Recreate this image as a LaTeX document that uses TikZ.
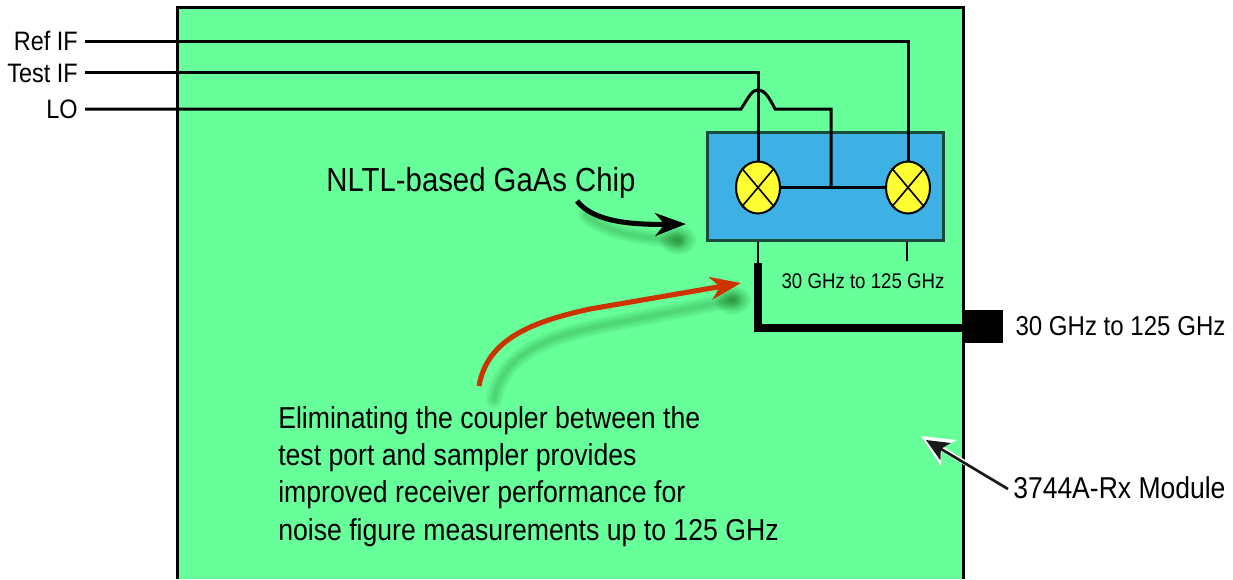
\documentclass[tikz,border=0pt]{standalone}
\usepackage{fontspec}
\setmainfont[FakeStretch=0.88]{Liberation Sans}
\usepackage{xcolor}
\usepackage{tikz}
\usetikzlibrary{positioning}
\usetikzlibrary{arrows.meta}
\usetikzlibrary{shapes.geometric}

\definecolor{modgreen}{HTML}{66FF99}
\definecolor{chipblue}{HTML}{3EB1E4}
\definecolor{chipedge}{HTML}{1B4A3A}
\definecolor{mixyellow}{HTML}{FFFF33}
\definecolor{notered}{HTML}{CC3300}

\tikzset{
	lbl/.style={inner sep=0pt, font=\fontsize{20}{24}\selectfont},
	wire/.style={draw, line width=2.25pt},
	mixer/.style={draw, ellipse, fill=mixyellow, line width=1.5pt, minimum width=33pt, minimum height=39pt, inner sep=0pt},
	bighead/.style={-{Stealth[length=23pt, width=17pt, inset=7pt]}},
}
\newcommand{\softshade}[2]{%
	\foreach \w in {16,12,8,4} {
		\draw[opacity=.06, line width=\w*0.75pt, line cap=round, color=black!70!green] #1;
	}
	\foreach \r in {18,16,14,12,10,8,6,4} {
		\fill[opacity=.06, color=black!70!green] #2 ellipse ({\r} and {\r*0.8});
	}
}

\begin{document}
\begin{tikzpicture}[x=0.75pt, y=-0.75pt]
		\useasboundingbox (0,0) rectangle (1233,579);
		% module body, open at the bottom
		\fill[modgreen] (177,7) rectangle (963,579);
		\draw[line width=2.25pt] (177,579) -- (177,7) -- (963,7) -- (963,579);

		\node [lbl, anchor=east] (refif) at (78,41) {Ref IF};
		\node [lbl, anchor=east] (testif) at (78,73) {Test IF};
		\node [lbl, anchor=east] (loif) at (78,109) {LO};

		\node [draw=chipedge, fill=chipblue, line width=2.2pt, minimum width=177pt, minimum height=81pt, inner sep=0pt] (chip) at (825.5,186.5) {};
		\node [mixer] (mixl) at (758,187.5) {};
		\node [mixer] (mixr) at (908,187.5) {};
		\foreach \m in {mixl,mixr} {
			\draw[line width=1.2pt] (\m.50) -- (\m.230);
			\draw[line width=1.2pt] (\m.130) -- (\m.310);
		}

		\coordinate (lojoin) at (831,187.5);
		\path[wire] (refif.east) ++(7,0) -- (908,41) -- (mixr.north);
		\path[wire] (testif.east) ++(7,-1) -- (758,72) -- (mixl.north);
		\path[wire] (loif.east) ++(7,0) -- (741,109) .. controls (750,95) and (752,90) .. (758,90) .. controls (764,90) and (768,95) .. (775,109) -- (831,109) -- (lojoin);
		\path[wire] (mixl.east) -- (mixr.west);

		% test port path
		\coordinate (lstub) at (758,263);
		\coordinate (rstub) at (907,261);
		\coordinate (lbend) at (758,328);
		\path[wire, line width=1.8pt] (758,242) -- (lstub);
		\path[wire, line width=1.8pt] (907,242) -- (rstub);
		\node [fill=black, minimum width=30pt, minimum height=25pt, inner sep=0pt] (port) at (983,326.5) {};
		\path[draw, line width=6pt] (lstub) -- (lbend) -- (lbend -| port.west);

		\node [lbl, font=\fontsize{15.9}{18}\selectfont] (rfchip) at (863,281) {30 GHz to 125 GHz};
		\node [lbl, font=\fontsize{20.5}{24}\selectfont, right= 9pt of port] (rfport) {30 GHz to 125 GHz};

		\node [lbl, font=\fontsize{25}{30}\selectfont] (chiplbl) at (481,183) {NLTL-based GaAs Chip};
		\node [lbl, anchor=north west, align=left, font=\fontsize{22.7}{28}\selectfont] (note) at (278,406) {Eliminating the coupler between the\\test port and sampler provides\\improved receiver performance for\\noise figure measurements up to 125 GHz};
		\node [lbl, anchor=west, font=\fontsize{22.6}{27}\selectfont] (modlbl) at (1013,488) {3744A-Rx Module};

		% soft shadows under the two curved arrows
		\softshade{(586,215) .. controls (605,232) and (640,238) .. (678,240)}{(678,240)}
		\softshade{(494,400) .. controls (502,355) and (545,337) .. (605,325) -- (733,300)}{(733,300)}

		\coordinate (blacktail) at (577,201);
		\coordinate (blacktip) at (686,224);
		\coordinate (redtail) at (479,386);
		\coordinate (redtip) at (741,283);
		\path[draw, bighead, line width=3.8pt] (blacktail) .. controls (592,220) and (625,225) .. (blacktip);
		\path[draw=notered, bighead, line width=3.8pt] (redtail) .. controls (487,340) and (530,322) .. (590,309) -- (redtip);

		% pointer to the module, white edge under it
		\coordinate (modtip) at (921,436);
		\path[draw=white, -{Stealth[length=24pt, width=22pt, inset=6pt]}, line width=3.6pt] (modlbl.west) ++(-5,1) -- (modtip);
		\path[draw=black!90, -{Stealth[length=17pt, width=15pt, inset=4pt]}, line width=2pt] (modlbl.west) ++(-5,1) -- (926,440);
	\end{tikzpicture}
\end{document}
